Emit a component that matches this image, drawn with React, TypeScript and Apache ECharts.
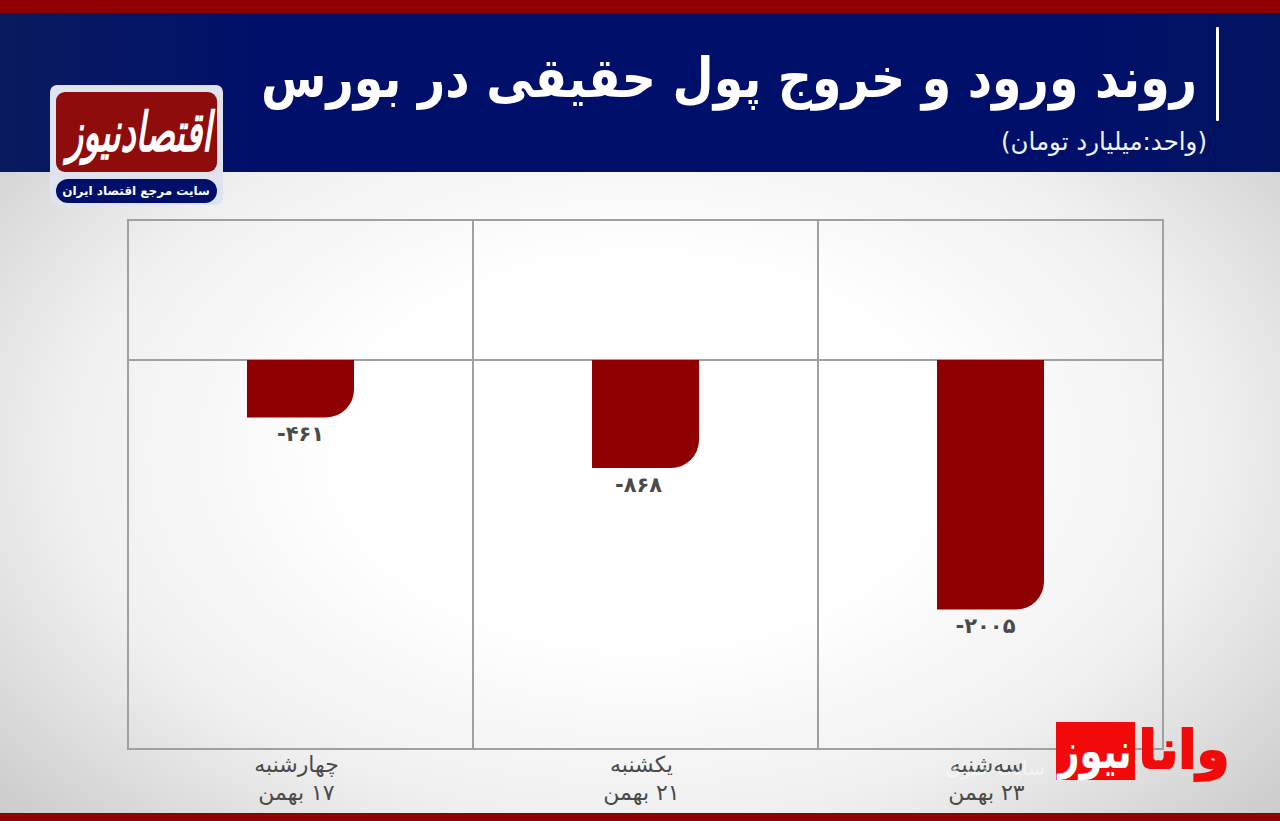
import React, { useEffect, useRef } from "react";
import * as echarts from "echarts";

const RLM = "\u200F";
const dayNames = ["چهارشنبه", "یکشنبه", "سه‌شنبه"];
const dates = ["۱۷ بهمن", "۲۱ بهمن", "۲۳ بهمن"];
const values = [-461, -868, -2005];
const axisMin = -3125;
const axisMax = 1125;
const titleText = "روند ورود و خروج پول حقیقی در بورس";
const unitText = "(واحد:میلیارد تومان)";
const FA_DIGITS = "۰۱۲۳۴۵۶۷۸۹";

const toPersian = (v: number) =>
  (v < 0 ? "-" : "") + String(Math.abs(v)).replace(/\d/g, (d) => FA_DIGITS[Number(d)]);

const FONT = '"DejaVu Sans", sans-serif';

export default function App() {
  const ref = useRef<HTMLDivElement>(null);
  useEffect(() => {
    const chart = echarts.init(ref.current!, undefined, { renderer: "svg" });
    const labelShift = [0, -7, -5];
    chart.setOption({
      animation: false,
      backgroundColor: new echarts.graphic.RadialGradient(0.5, 0.55, 0.72, [
        { offset: 0, color: "#ffffff" },
        { offset: 0.32, color: "#ffffff" },
        { offset: 0.62, color: "#f0f0f0" },
        { offset: 1, color: "#c2c2c2" },
      ]),
      grid: {
        left: 128,
        top: 220,
        width: 1035,
        height: 529,
        show: true,
        borderColor: "#a0a0a0",
        borderWidth: 2,
        backgroundColor: "transparent",
      },
      xAxis: {
        type: "category",
        data: dayNames.map((d, i) => `${RLM}${d}\n${RLM}${dates[i]}`),
        axisLine: { show: false, onZero: false },
        axisTick: { show: false },
        splitLine: { show: true, interval: 0, lineStyle: { color: "#a0a0a0", width: 2 } },
        axisLabel: {
          interval: 0,
          margin: 1,
          padding: [0, 8, 0, 0],
          color: "#4a4a4a",
          fontFamily: FONT,
          fontSize: 22,
          lineHeight: 28,
        },
      },
      yAxis: {
        type: "value",
        min: axisMin,
        max: axisMax,
        axisLabel: { show: false },
        axisLine: { show: false },
        axisTick: { show: false },
        splitLine: { show: false },
      },
      series: [
        {
          type: "bar",
          data: values.map((value, i) => ({ value, label: { offset: [labelShift[i], 0] } })),
          barWidth: 107,
          itemStyle: { color: "#8f0000", borderRadius: [0, 0, 28, 0] },
          label: {
            show: true,
            position: "bottom",
            distance: 6,
            formatter: (p: any) => toPersian(p.value),
            color: "#4a4a4a",
            fontFamily: FONT,
            fontWeight: "bold",
            fontSize: 21,
          },
          markLine: {
            silent: true,
            symbol: "none",
            label: { show: false },
            lineStyle: { color: "#a0a0a0", width: 2, type: "solid" },
            data: [{ yAxis: 0 }],
            z: 1,
          },
        },
      ],
      graphic: [
        { type: "rect", z: 20, shape: { x: 0, y: 13, width: 1280, height: 159 },
          style: { fill: new echarts.graphic.LinearGradient(0, 0, 1, 0, [
            { offset: 0, color: "#0a1a5e" }, { offset: 0.2, color: "#00106a" },
            { offset: 0.85, color: "#00106a" }, { offset: 1, color: "#041460" } ]) } },
        { type: "rect", z: 21, shape: { x: 0, y: 0, width: 1280, height: 13 }, style: { fill: "#8f0000" } },
        { type: "rect", z: 21, shape: { x: 0, y: 813, width: 1280, height: 8 }, style: { fill: "#8f0000" } },
        { type: "rect", z: 22, shape: { x: 1216, y: 27, width: 3, height: 94, r: 1 }, style: { fill: "#ffffff" } },
        { type: "text", z: 22, x: 1197, y: 78, scaleX: 0.863,
          style: { x: 0, y: 0, text: titleText, fill: "#ffffff", font: `bold 55px ${FONT}`, align: "right", verticalAlign: "middle" } },
        { type: "text", z: 22, style: { x: 1207, y: 141, text: `${RLM}${unitText}${RLM}`, fill: "#f0f2fa", font: `24.5px ${FONT}`, align: "right", verticalAlign: "middle" } },

        { type: "rect", z: 22, shape: { x: 50, y: 85, width: 173, height: 120, r: 7 }, style: { fill: "#dfe3ef" } },
        { type: "rect", z: 23, shape: { x: 56, y: 92, width: 161, height: 80, r: 9 }, style: { fill: "#8f0c0c" } },
        { type: "text", z: 24, x: 139, y: 132, scaleY: 1.6,
          style: { x: 0, y: 0, text: "اقتصادنیوز", fill: "#ffffff", font: `italic bold 34px ${FONT}`, align: "center", verticalAlign: "middle" } },
        { type: "rect", z: 23, shape: { x: 56, y: 179, width: 161, height: 24, r: 12 }, style: { fill: "#00106a" } },
        { type: "text", z: 24, style: { x: 136, y: 191, text: "سایت مرجع اقتصاد ایران", fill: "#ffffff", font: `bold 12px ${FONT}`, align: "center", verticalAlign: "middle" } },

        { type: "text", z: 24, style: { x: 995, y: 768, text: "سایت خبری", fill: "rgba(255,255,255,0.55)", font: `20px ${FONT}`, align: "center", verticalAlign: "middle" } },
        { type: "rect", z: 25, shape: { x: 1056, y: 722, width: 79, height: 58 }, style: { fill: "#f20a0a" } },
        { type: "text", z: 26, x: 1095, y: 750, scaleY: 1.35,
          style: { x: 0, y: 0, text: "نیوز", fill: "#ffffff", font: `bold 37px ${FONT}`, align: "center", verticalAlign: "middle" } },
        { type: "text", z: 26, style: { x: 1184, y: 749, text: "وانا", fill: "#f20a0a", stroke: "#f20a0a", lineWidth: 2, font: `bold 53px ${FONT}`, align: "center", verticalAlign: "middle" } },
      ],
    });
    return () => chart.dispose();
  }, []);
  return <div ref={ref} style={{ position: "absolute", left: 0, top: 0, width: 1280, height: 821 }} />;
}
